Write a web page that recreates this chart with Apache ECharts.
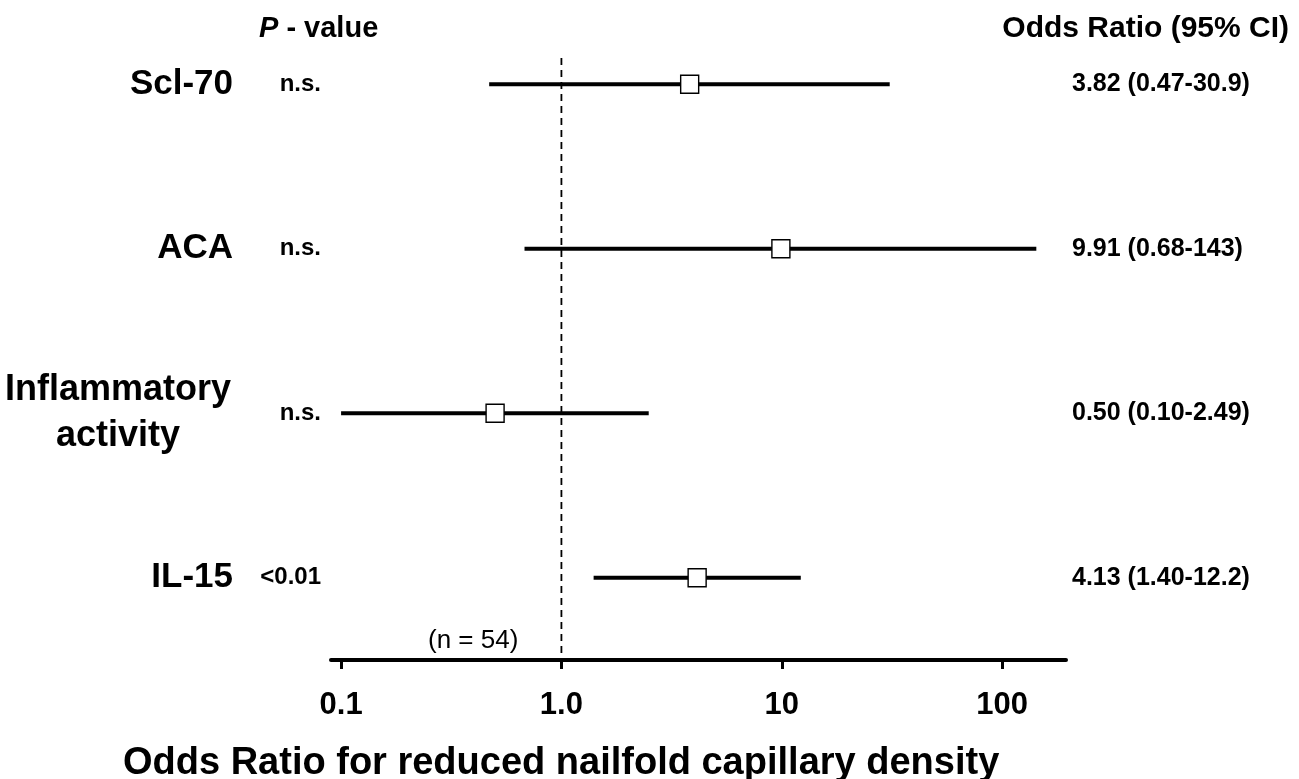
<!DOCTYPE html>
<html><head><meta charset="utf-8">
<script src="https://cdn.jsdelivr.net/npm/echarts@6/dist/echarts.min.js"></script>
<style>html,body{margin:0;padding:0;background:#fff}#c{width:1299px;height:779px}</style>
</head><body><div id="c"></div>
<script>
const categories = ['Scl-70', 'ACA', 'Inflammatory\nactivity', 'IL-15'];
const pValues = ['n.s.', 'n.s.', 'n.s.', '<0.01'];
const oddsRatio = [3.82, 9.91, 0.50, 4.13];
const ciLower = [0.47, 0.68, 0.10, 1.40];
const ciUpper = [30.9, 143, 2.49, 12.2];
const orLabels = ['3.82 (0.47-30.9)', '9.91 (0.68-143)', '0.50 (0.10-2.49)', '4.13 (1.40-12.2)'];
const xTickValues = [0.1, 1, 10, 100];
const xTickLabels = ['0.1', '1.0', '10', '100'];
const referenceLine = 1;
const sampleNote = '(n = 54)';
const xTitle = 'Odds Ratio for reduced nailfold capillary density';

const FONT = '"Liberation Sans", Arial, sans-serif';
const chart = echarts.init(document.getElementById('c'), null, {renderer: 'canvas'});

const rowIdx = categories.map((c, i) => i);

const option = {
  animation: false,
  backgroundColor: '#fff',
  textStyle: {fontFamily: FONT, color: '#000'},
  title: [
    {
      text: '{i|P} - value',
      left: 254, top: 9,
      textStyle: {
        fontFamily: FONT, fontSize: 29, fontWeight: 'bold', color: '#000',
        rich: {i: {fontFamily: FONT, fontSize: 29, fontWeight: 'bold', fontStyle: 'italic', color: '#000'}}
      }
    },
    {
      text: 'Odds Ratio (95% CI)',
      right: 5, top: 9,
      textStyle: {fontFamily: FONT, fontSize: 30, fontWeight: 'bold', color: '#000'}
    },
    {
      text: sampleNote,
      left: 423, top: 623,
      textStyle: {fontFamily: FONT, fontSize: 26, fontWeight: 'normal', color: '#000'}
    },
    {
      text: xTitle,
      left: 118, top: 740,
      textStyle: {fontFamily: FONT, fontSize: 38, fontWeight: 'bold', color: '#000'}
    }
  ],
  grid: {left: 331, right: 233, top: 2, height: 658, containLabel: false},
  xAxis: {
    type: 'log',
    logBase: 10,
    min: 0.09,
    max: 195,
    axisLine: {show: true, onZero: false, lineStyle: {color: '#000', width: 4}},
    axisTick: {show: true, customValues: xTickValues, length: 9, inside: false, lineStyle: {color: '#000', width: 3}},
    axisLabel: {
      show: true,
      customValues: xTickValues,
      margin: 30,
      fontFamily: FONT, fontSize: 31, fontWeight: 'bold', color: '#000',
      formatter: function (v) {
        let best = 0, bd = Infinity;
        xTickValues.forEach((t, k) => { const d = Math.abs(Math.log10(t) - Math.log10(v)); if (d < bd) { bd = d; best = k; } });
        return xTickLabels[best];
      }
    },
    splitLine: {show: false},
    minorTick: {show: false}
  },
  yAxis: [
    {
      type: 'value', min: -0.5, max: 3.5, inverse: true, show: false
    },
    {
      type: 'category', position: 'left', inverse: true, data: categories,
      axisLine: {show: false}, axisTick: {show: false}, splitLine: {show: false},
      axisLabel: {
        margin: 98,
        formatter: function (v) {
          if (v.indexOf('\n') >= 0) return v.split('\n').map(s => '{m|' + s + '}').join('\n');
          return '{s|' + v + '}';
        },
        rich: {
          s: {fontFamily: FONT, fontSize: 35, fontWeight: 'bold', color: '#000'},
          m: {fontFamily: FONT, fontSize: 36, fontWeight: 'bold', color: '#000', width: 230, align: 'center', lineHeight: 46}
        }
      }
    },
    {
      type: 'category', position: 'left', inverse: true, data: categories,
      axisLine: {show: false}, axisTick: {show: false}, splitLine: {show: false},
      axisLabel: {
        margin: 10,
        fontFamily: FONT, fontSize: 24, fontWeight: 'bold', color: '#000',
        formatter: (v, i) => pValues[i]
      }
    },
    {
      type: 'category', position: 'right', inverse: true, data: categories,
      axisLine: {show: false}, axisTick: {show: false}, splitLine: {show: false},
      axisLabel: {
        margin: 6, align: 'left',
        fontFamily: FONT, fontSize: 25, fontWeight: 'bold', color: '#000',
        formatter: (v, i) => orLabels[i]
      }
    }
  ],
  series: [
    {
      type: 'line',
      yAxisIndex: 0,
      data: [[referenceLine, -0.16], [referenceLine, 3.5]],
      symbol: 'none',
      lineStyle: {color: '#000', width: 1.8, type: [7, 5]},
      silent: true, z: 1
    },
    {
      type: 'custom',
      yAxisIndex: 0,
      data: rowIdx.map(i => [ciLower[i], ciUpper[i], i]),
      encode: {x: [0, 1], y: 2},
      renderItem: function (params, api) {
        const y = api.value(2);
        const p1 = api.coord([api.value(0), y]);
        const p2 = api.coord([api.value(1), y]);
        return {
          type: 'line',
          shape: {x1: p1[0], y1: p1[1], x2: p2[0], y2: p2[1]},
          style: {stroke: '#000', lineWidth: 4}
        };
      },
      silent: true, z: 2
    },
    {
      type: 'scatter',
      yAxisIndex: 0,
      data: rowIdx.map(i => [oddsRatio[i], i]),
      symbol: 'rect',
      symbolSize: 18,
      itemStyle: {color: '#fff', borderColor: '#000', borderWidth: 1.4, opacity: 1},
      silent: true, z: 3
    }
  ]
};
chart.setOption(option);
</script>
</body></html>
